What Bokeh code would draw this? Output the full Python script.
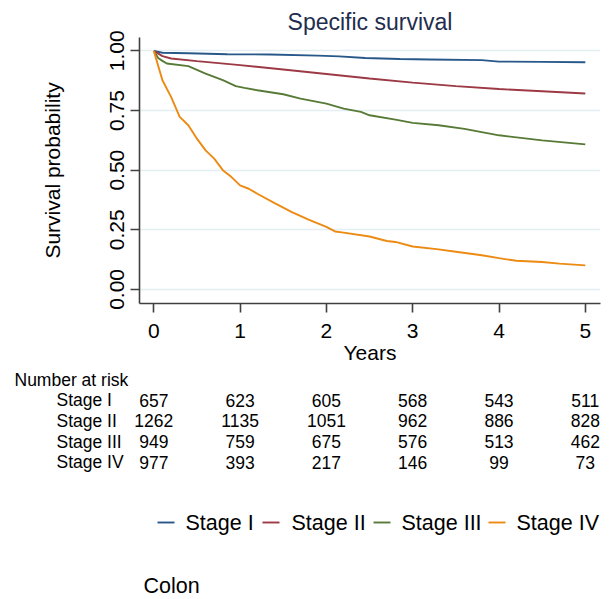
from math import pi
from bokeh.plotting import figure
from bokeh.models import Range1d, FixedTicker, PrintfTickFormatter
from bokeh.core.properties import value
from bokeh.embed import file_html
from bokeh.resources import INLINE

# ---------------- data ----------------
stage_names = ["Stage I", "Stage II", "Stage III", "Stage IV"]

t_stage1 = [0, 0.1, 0.4, 0.85, 1.35, 1.9, 2.15, 2.45, 2.85, 3.2, 3.8, 4.0, 4.5, 5.0]
s_stage1 = [1.0, 0.992, 0.990, 0.986, 0.985, 0.980, 0.977, 0.970, 0.966, 0.964,
            0.961, 0.955, 0.954, 0.952]

t_stage2 = [0, 0.1, 0.2, 0.5, 1.0, 1.5, 2.0, 2.5, 3.0, 3.5, 4.0, 4.5, 5.0]
s_stage2 = [1.0, 0.978, 0.968, 0.957, 0.940, 0.922, 0.903, 0.884, 0.867, 0.852,
            0.840, 0.831, 0.821]

t_stage3 = [0, 0.05, 0.1, 0.15, 0.4, 0.6, 0.8, 0.95, 1.05, 1.2, 1.5, 1.7, 2.0,
            2.2, 2.4, 2.5, 2.8, 3.0, 3.3, 3.6, 4.0, 4.5, 5.0]
s_stage3 = [1.0, 0.970, 0.958, 0.947, 0.936, 0.905, 0.877, 0.852, 0.845, 0.835,
            0.818, 0.800, 0.779, 0.758, 0.744, 0.730, 0.712, 0.698, 0.688, 0.673,
            0.646, 0.625, 0.608]

t_stage4 = [0, 0.1, 0.2, 0.3, 0.4, 0.5, 0.6, 0.7, 0.8, 0.9, 1.0, 1.1, 1.2, 1.4,
            1.6, 1.8, 2.0, 2.1, 2.2, 2.5, 2.7, 2.8, 3.0, 3.3, 3.5, 3.8, 4.0, 4.2,
            4.5, 4.7, 5.0]
s_stage4 = [1.0, 0.877, 0.807, 0.723, 0.688, 0.632, 0.583, 0.548, 0.500, 0.471,
            0.436, 0.422, 0.401, 0.362, 0.324, 0.292, 0.262, 0.243, 0.238, 0.222,
            0.203, 0.199, 0.180, 0.168, 0.158, 0.143, 0.131, 0.120, 0.115, 0.108,
            0.101]

risk_times = [0, 1, 2, 3, 4, 5]
risk_stage1 = [657, 623, 605, 568, 543, 511]
risk_stage2 = [1262, 1135, 1051, 962, 886, 828]
risk_stage3 = [949, 759, 675, 576, 513, 462]
risk_stage4 = [977, 393, 217, 146, 99, 73]

x_ticks = [0, 1, 2, 3, 4, 5]
y_ticks = [0, 0.25, 0.5, 0.75, 1.0]

title_text = "Specific survival"
x_title = "Years"
y_title = "Survival probability"
risk_title = "Number at risk"
footer_text = "Colon"

# ---------------- layout ----------------
W, H = 611, 599
FL, FT, FR, FB = 139, 37, 600, 303          # plot frame on the canvas
PX_PER_YEAR = 86.3
X_ZERO_PX = 153.3
X0 = (FL - X_ZERO_PX) / PX_PER_YEAR
X1 = (FR - X_ZERO_PX) / PX_PER_YEAR
Y0, Y1 = -0.059, 1.056

def px2x(px):   # canvas pixel -> data x
    return (px - X_ZERO_PX) / PX_PER_YEAR

def py2y(py):   # canvas pixel -> data y
    return Y1 - (py - FT) / (FB - FT) * (Y1 - Y0)

FONT = "Liberation Sans"
TABLE_SIZE = "17.5px"
colors = ["#28588a", "#9c3944", "#587a37", "#ec8a12"]
AXIS_COLOR = "#404040"

p = figure(width=W, height=H, output_backend="svg", toolbar_location=None,
           x_range=Range1d(X0, X1), y_range=Range1d(Y0, Y1),
           min_border_left=FL, min_border_top=FT,
           min_border_right=W - FR, min_border_bottom=H - FB,
           background_fill_color="white", border_fill_color="white",
           title=title_text)
p.outline_line_color = None
p.title.align = "center"
p.title.text_font = FONT
p.title.text_font_size = "23px"
p.title.text_font_style = "normal"
p.title.text_color = "#1f2d4e"
p.title.standoff = 5

# axes
p.xaxis.ticker = FixedTicker(ticks=x_ticks)
p.yaxis.ticker = FixedTicker(ticks=y_ticks)
p.ygrid.ticker = FixedTicker(ticks=y_ticks)
p.yaxis.formatter = PrintfTickFormatter(format="%.2f")
p.yaxis.major_label_orientation = "vertical"
for ax in (p.xaxis, p.yaxis):
    ax.axis_line_color = AXIS_COLOR
    ax.axis_line_width = 1.6
    ax.major_tick_line_color = AXIS_COLOR
    ax.major_tick_line_width = 1.6
    ax.major_tick_out = 9
    ax.major_tick_in = 0
    ax.minor_tick_out = 0
    ax.minor_tick_in = 0
    ax.major_label_text_font = FONT
    ax.major_label_text_font_size = "21px"
    ax.major_label_text_color = "black"
    ax.axis_label_text_font = FONT
    ax.axis_label_text_font_size = "21px"
    ax.axis_label_text_font_style = "normal"
    ax.axis_label_text_color = "black"
p.xaxis.major_label_standoff = 11
p.yaxis.major_label_standoff = 6
p.xaxis.axis_label = x_title
p.yaxis.axis_label = y_title
p.xaxis.axis_label_standoff = 0
p.yaxis.axis_label_standoff = 44
p.xgrid.visible = False
p.ygrid.grid_line_color = "#e4eef3"
p.ygrid.grid_line_width = 1.6

# curves
series_t = [t_stage1, t_stage2, t_stage3, t_stage4]
series_s = [s_stage1, s_stage2, s_stage3, s_stage4]
for t, s, c in zip(series_t, series_s, colors):
    p.line(t, s, line_color=c, line_width=1.9)

# ---------------- risk table, legend, footer (drawn above the frame clip) ----
def add_text(texts, xs, py, size, align="left"):
    r = p.text(x=xs, y=[py2y(py)] * len(xs), text=texts,
               text_font=value(FONT), text_font_size=value(size),
               text_align=align, text_baseline="middle", text_color="black")
    r.level = "overlay"
    return r

add_text([risk_title], [px2x(14)], 379, TABLE_SIZE)
row_y = [399.5, 420.3, 441, 461.7]
risk_rows = [risk_stage1, risk_stage2, risk_stage3, risk_stage4]
for name, vals, ry in zip(stage_names, risk_rows, row_y):
    add_text([name], [px2x(56)], ry, TABLE_SIZE)
    add_text([str(v) for v in vals], risk_times, ry, TABLE_SIZE, align="center")

# legend: sample line + label per stage
LEG_Y = 522
leg_line_px = [157, 262, 373, 488]
leg_text_px = [185, 291, 401, 516]
for name, c, lx, tx in zip(stage_names, colors, leg_line_px, leg_text_px):
    seg = p.segment(x0=[px2x(lx)], y0=[py2y(LEG_Y)], x1=[px2x(lx + 17)], y1=[py2y(LEG_Y)],
                    line_color=c, line_width=1.9)
    seg.level = "overlay"
    add_text([name], [px2x(tx)], LEG_Y, "21.5px")

add_text([footer_text], [px2x(143)], 585, "21.5px")

open("out.html", "w").write(file_html(p, INLINE))
